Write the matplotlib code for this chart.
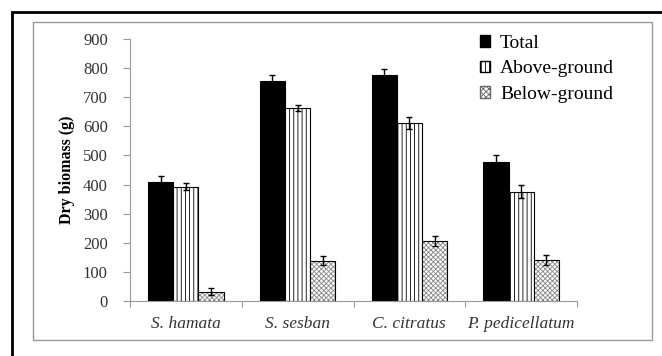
import numpy as np
import matplotlib.pyplot as plt
from matplotlib.patches import Rectangle, Patch

plt.rcParams['font.family'] = ['Liberation Serif', 'DejaVu Serif']
plt.rcParams['hatch.linewidth'] = 0.6

species = ["S. hamata", "S. sesban", "C. citratus", "P. pedicellatum"]
total = [410, 755, 775, 478]
above = [393, 663, 612, 375]
below = [32, 138, 205, 140]
total_err = [20, 20, 22, 22]
above_err = [11, 12, 20, 22]
below_err = [12, 15, 17, 18]

fig = plt.figure(figsize=(6.62, 3.56), dpi=100)
ax = fig.add_axes([130 / 662, 55 / 356, 447 / 662, 262 / 356])

x = np.arange(len(species))
w = 0.225
ekw = dict(ecolor='black', elinewidth=1, capsize=2.5, capthick=1)
ax.bar(x - w, total, w, yerr=total_err, color='black', edgecolor='black',
       linewidth=0.8, error_kw=ekw, label='Total')
ax.bar(x, above, w, yerr=above_err, color='white', edgecolor='black',
       hatch='||||', linewidth=0.8, error_kw=ekw, label='Above-ground')
# below-ground: light gray fine hatch, then black outline on top
ax.bar(x + w, below, w, color='white', edgecolor='#888888', hatch='xxxxxxx', linewidth=0)
ax.bar(x + w, below, w, yerr=below_err, fill=False, edgecolor='black',
       linewidth=0.8, error_kw=ekw, label='Below-ground')

ax.set_xlim(-0.5, 3.5)
ax.set_ylim(0, 900)
ax.set_yticks(np.arange(0, 1000, 100))
ax.set_xticks(np.arange(-0.5, 4, 1))
ax.set_xticklabels([])
ax.set_xticks(x, minor=True)
ax.set_xticklabels(species, minor=True, style='italic', fontsize=12.5, color='#333333')
ax.tick_params(axis='x', which='minor', length=0, pad=11)
ax.tick_params(axis='x', which='major', length=4, color='#999999', direction='out')
ax.tick_params(axis='y', length=5, color='#999999', labelsize=12, labelcolor='#333333', pad=11)
for s in ['top', 'right']:
    ax.spines[s].set_visible(False)
for s in ['left', 'bottom']:
    ax.spines[s].set_color('#999999')
ax.set_ylabel("Dry biomass (g)", fontweight='bold', fontsize=11.5, labelpad=6)

handles = [Patch(facecolor='black', edgecolor='black'),
           Patch(facecolor='white', edgecolor='black', hatch='||||'),
           Patch(facecolor='white', edgecolor='#666666', hatch='xxxxxx')]
fig.legend(handles, ['Total', 'Above-ground', 'Below-ground'],
           loc='upper left', bbox_to_anchor=(470 / 662, 1 - 25 / 356),
           frameon=False, fontsize=14, handlelength=0.55, handleheight=0.55,
           handletextpad=0.5, labelspacing=0.45, borderpad=0)

# inner gray frame and outer black frame
fig.patches.append(Rectangle((33 / 662, 1 - 340 / 356), (652 - 33) / 662, (340 - 22) / 356,
                             transform=fig.transFigure, fill=False,
                             edgecolor='#999999', linewidth=1))
fig.patches.append(Rectangle((12 / 662, -0.05), 1.2, 1.05 - 11.5 / 356,
                             transform=fig.transFigure, fill=False,
                             edgecolor='black', linewidth=2))

fig.savefig("out.png", dpi=100)
